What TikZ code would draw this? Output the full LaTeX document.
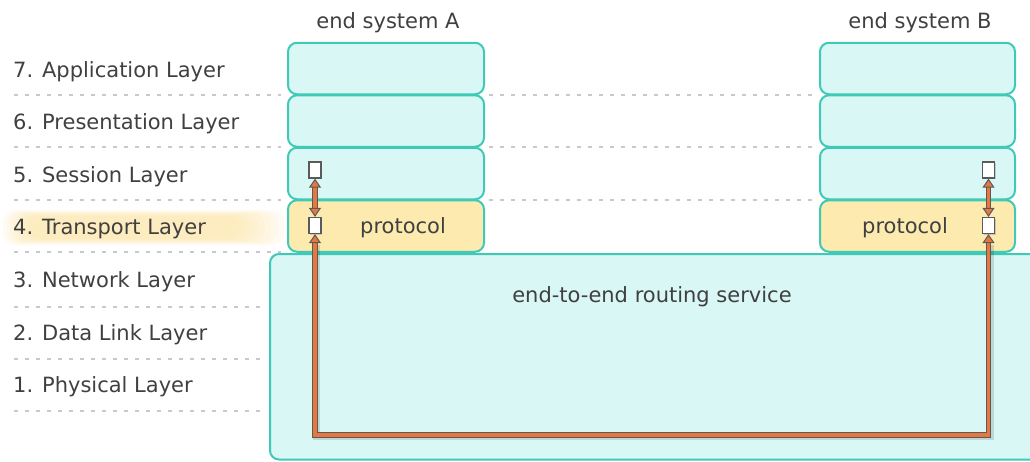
\documentclass[tikz,border=0pt]{standalone}
\usepackage{fontspec}
\setmainfont{DejaVu Sans}
\usetikzlibrary{arrows.meta,shadows}

\definecolor{boxfill}{HTML}{D9F7F5}
\definecolor{boxline}{HTML}{3FC9B6}
\definecolor{tpfill}{HTML}{FCEAAF}
\definecolor{txt}{HTML}{404040}
\definecolor{sepgray}{HTML}{C8C8D0}
\definecolor{wireorange}{HTML}{E8773F}
\definecolor{wiredark}{HTML}{5A5A5A}
\definecolor{glowc}{HTML}{FCDF98}

\tikzset{
  lbl/.style={anchor=base west, inner sep=0pt, font=\fontsize{21}{25}\selectfont, text=txt},
  ctext/.style={anchor=base, inner sep=0pt, font=\fontsize{21}{25}\selectfont, text=txt},
  layerbox/.style={draw=boxline, fill=boxfill, line width=2pt, rounded corners=9pt,
    minimum height=51.5pt, inner sep=0pt},
  boxA/.style={layerbox, minimum width=196pt},
  boxB/.style={layerbox, minimum width=195pt},
  sap/.style={draw=wiredark, fill=white, line width=1.2pt, minimum width=12pt,
    minimum height=16pt, inner sep=0pt,
    drop shadow={shadow xshift=1.2pt, shadow yshift=-1.2pt, opacity=0.35}},
  sep/.style={draw=sepgray, line width=1.6pt, dash pattern=on 4pt off 7pt},
  otip/.tip={Triangle[length=9pt, width=12pt, line width=1pt, color=wiredark, fill=wireorange]},
  wireshadow/.style={draw=black, opacity=0.13, line width=7pt, shorten <=9pt, shorten >=9pt,
    transform canvas={xshift=1.5pt, yshift=-1.5pt}},
  wireback/.style={draw=wiredark, line width=5.6pt, shorten <=8pt, shorten >=8pt},
  wirefront/.style={draw=wireorange, line width=3.6pt, {otip}-{otip}},
}

\begin{document}
\begin{tikzpicture}[x=1pt, y=-1pt]
\useasboundingbox (0,0) rectangle (1030,461);

% soft highlight behind the transport layer label
\foreach \i in {0,...,7} {
  \fill[glowc, opacity=0.11, rounded corners=12pt]
    ({3+3.5*\i},{210+0.9*\i}) rectangle ({284-6.5*\i},{245-0.9*\i});
}

% layer separators
\foreach \yy in {95,147,200,252} {
  \draw[sep] (14,\yy) -- (281,\yy);
}
\foreach \yy in {95,147,200} {
  \draw[sep] (489,\yy) -- (817,\yy);
}
\foreach \yy in {307,359,411} {
  \draw[sep] (14,\yy) -- (263,\yy);
}

% layer names
\node[lbl] (l7) at (13,77)  {7. Application Layer};
\node[lbl] (l6) at (13,129) {6. Presentation Layer};
\node[lbl] (l5) at (13,182) {5. Session Layer};
\node[lbl] (l4) at (13,234) {4. Transport Layer};
\node[lbl] (l3) at (13,287) {3. Network Layer};
\node[lbl] (l2) at (13,340) {2. Data Link Layer};
\node[lbl] (l1) at (13,392) {1. Physical Layer};

% network cloud shared by both systems
\draw[draw=boxline, fill=boxfill, line width=2pt, rounded corners=9pt]
  (270,254) rectangle (1050,459.5);
\node[ctext] (routing) at (652,302) {end-to-end routing service};

% end system A
\node[ctext] (hA) at (388,28) {end system A};
\node[boxA] (A7) at (386,68.5) {};
\node[boxA] (A6) at (386,121) {};
\node[boxA] (A5) at (386,173.5) {};
\node[boxA, fill=tpfill] (A4) at (386,226) {};
\node[ctext] (pA) at (403,233) {protocol};

% end system B
\node[ctext] (hB) at (920,28) {end system B};
\node[boxB] (B7) at (917.5,68.5) {};
\node[boxB] (B6) at (917.5,121) {};
\node[boxB] (B5) at (917.5,173.5) {};
\node[boxB, fill=tpfill] (B4) at (917.5,226) {};
\node[ctext] (pB) at (905,233) {protocol};

% service access points
\node[sap] (sA5) at (315,170) {};
\node[sap] (sA4) at (315,225.5) {};
\node[sap] (sB5) at (988.5,170) {};
\node[sap] (sB4) at (988.5,225.5) {};

\coordinate (floor) at (0,435);

% connections between the service access points
\draw[wireshadow] (sA4.south) -- (sA4.south |- floor) -| (sB4.south);
\draw[wireback] (sA5.south) -- (sA4.north);
\draw[wireback] (sB5.south) -- (sB4.north);
\draw[wireback] (sA4.south) -- (sA4.south |- floor) -| (sB4.south);
\draw[wirefront] (sA5.south) -- (sA4.north);
\draw[wirefront] (sB5.south) -- (sB4.north);
\draw[wirefront] (sA4.south) -- (sA4.south |- floor) -| (sB4.south);
\end{tikzpicture}
\end{document}
